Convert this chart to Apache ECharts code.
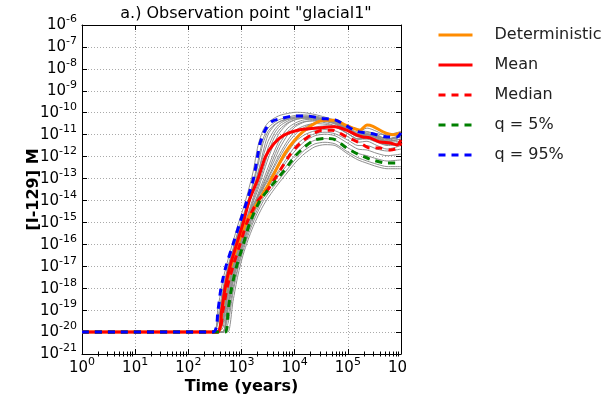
<!DOCTYPE html>
<html><head><meta charset="utf-8">
<script src="https://cdn.jsdelivr.net/npm/echarts/dist/echarts.min.js"></script>
<style>html,body{margin:0;padding:0;background:#fff}#c{width:606px;height:396px}</style>
</head><body><div id="c"></div>
<script>
// ---- data (time in years, concentration in M) ----
const xTickExponents = [0, 1, 2, 3, 4, 5, 6];
const yTickExponents = [-21, -20, -19, -18, -17, -16, -15, -14, -13, -12, -11, -10, -9, -8, -7, -6];
const xMinorSubs = [2, 3, 4, 5, 6, 7, 8, 9];
const seriesNames = ['Deterministic', 'Mean', 'Median', 'q = 5%', 'q = 95%'];

const detTime = [1, 346, 430, 500, 634, 860, 1217, 1645, 3155, 4262, 6540, 10050, 15500, 24000, 37200, 57600, 88300, 125000, 169400, 229000, 297000, 458000, 707000, 1000000];
const detConc = [1e-20, 1e-20, 1e-19, 1e-18, 1e-17, 1e-16, 1e-15, 3.6e-15, 5e-14, 2e-13, 1.4e-12, 5.75e-12, 1.6e-11, 3.3e-11, 4.5e-11, 4.5e-11, 2.8e-11, 2e-11, 1.6e-11, 2.75e-11, 2.4e-11, 1.35e-11, 1e-11, 1.2e-11];

const meanTime = [1, 346, 424, 490, 608, 807, 1083, 1400, 2050, 2825, 4100, 6300, 11400, 24000, 57600, 95000, 148600, 192000, 261000, 402000, 621000, 840000, 1000000];
const meanConc = [1e-20, 1e-20, 1e-19, 1e-18, 1e-17, 1e-16, 1e-15, 1e-14, 1e-13, 1e-12, 4e-12, 9.5e-12, 1.6e-11, 1.95e-11, 2.3e-11, 1.6e-11, 9.5e-12, 7.9e-12, 7.1e-12, 4.6e-12, 4.2e-12, 3.4e-12, 5.75e-12];

const medianTime = [1, 346, 449, 533, 692, 938, 1271, 2046, 3155, 5400, 8500, 13300, 20700, 32700, 50350, 95000, 169400, 261000, 402000, 621000, 880000, 1000000];
const medianConc = [1e-20, 1e-20, 1e-19, 1e-18, 1e-17, 1e-16, 1e-15, 1e-14, 3.2e-14, 2.5e-13, 1.4e-12, 4.5e-12, 1e-11, 1.6e-11, 1.6e-11, 7.9e-12, 4.2e-12, 2.45e-12, 2.45e-12, 2e-12, 2.45e-12, 4.2e-12];

const q5Time = [1, 490, 560, 650, 807, 1083, 1447, 2231, 3751, 6540, 10050, 15500, 24000, 37200, 57600, 95000, 169400, 297000, 545000, 1000000];
const q5Conc = [1e-20, 1e-20, 1e-19, 1e-18, 1e-17, 1e-16, 1e-15, 1e-14, 5e-14, 2.5e-13, 1e-12, 2.8e-12, 5.75e-12, 6.8e-12, 6e-12, 2.45e-12, 1.17e-12, 6.9e-13, 5.1e-13, 5.1e-13];

const q95Time = [1, 291, 361, 411, 511, 692, 938, 1271, 1680, 2000, 2230, 2770, 3650, 5600, 10050, 17000, 32000, 57600, 95000, 148600, 280000, 545000, 840000, 1000000];
const q95Conc = [1e-20, 1e-20, 1e-19, 1e-18, 1e-17, 1e-16, 1e-15, 1e-14, 1e-13, 1e-12, 4e-12, 1.6e-11, 3.9e-11, 5.5e-11, 7.1e-11, 7.1e-11, 5.5e-11, 4.7e-11, 2.5e-11, 1.4e-11, 1.12e-11, 7.9e-12, 7.9e-12, 1.2e-11];

// individual realisations (grey), all on one time grid
const runTime = [1, 291, 361, 449, 557, 692, 860, 1068, 1327, 1650, 2046, 2540, 3155, 4100, 5280, 7440, 10500, 15500, 24000, 37200, 57600, 100700, 155000, 229000, 353000, 545000, 1000000];
const run01 = [1e-20,1e-20,1.3e-19,2.5e-18,2e-17,1.3e-16,7.9e-16,4e-15,2.5e-14,2e-13,3.2e-12,1.6e-11,3.5e-11,5.6e-11,7.6e-11,9.3e-11,1.05e-10,1e-10,8.3e-11,6.3e-11,4.5e-11,2.5e-11,1.6e-11,1.4e-11,1.1e-11,1e-11,1.4e-11];
const run02 = [1e-20,1e-20,5e-20,1e-18,1e-17,6.3e-17,4e-16,2e-15,1e-14,6.3e-14,6.3e-13,6.3e-12,2e-11,3.5e-11,5e-11,6.3e-11,7.6e-11,7.9e-11,7.1e-11,5.6e-11,4e-11,2e-11,1.1e-11,1e-11,7.9e-12,6.3e-12,1e-11];
const run03 = [1e-20,1e-20,1e-20,2.5e-19,4e-18,3.2e-17,2e-16,1e-15,5e-15,2.5e-14,1.6e-13,1.6e-12,1e-11,2.5e-11,4e-11,5.6e-11,6.6e-11,7.1e-11,6.3e-11,5e-11,3.5e-11,1.8e-11,1e-11,8.9e-12,7.1e-12,5.6e-12,7.9e-12];
const run04 = [1e-20,1e-20,1e-20,1.3e-19,2e-18,1.6e-17,1e-16,5e-16,2.5e-15,1.3e-14,6.3e-14,4e-13,2.5e-12,1.1e-11,2.5e-11,4.2e-11,5.6e-11,6.3e-11,6e-11,5e-11,3.8e-11,1.9e-11,1.1e-11,1.1e-11,8.9e-12,6.3e-12,8.9e-12];
const run05 = [1e-20,1e-20,1e-20,5e-20,1e-18,1e-17,6.3e-17,3.2e-16,1.6e-15,7.9e-15,3.2e-14,1.6e-13,7.9e-13,4e-12,1.3e-11,3.2e-11,4.8e-11,5.6e-11,5.6e-11,4.8e-11,3.5e-11,1.7e-11,1e-11,1.3e-11,1e-11,6.3e-12,7.9e-12];
const run06 = [1e-20,1e-20,1e-20,3.2e-20,6.3e-19,6.3e-18,4e-17,2.5e-16,1e-15,5e-15,2e-14,7.9e-14,3.2e-13,1.6e-12,6.3e-12,2e-11,3.5e-11,4.8e-11,5e-11,4.5e-11,3.3e-11,1.5e-11,8.9e-12,1e-11,7.9e-12,5e-12,6.3e-12];
const run07 = [1e-20,1e-20,1e-20,1e-20,2e-19,3.2e-18,2.5e-17,1.6e-16,7.9e-16,3.2e-15,1.3e-14,4.5e-14,1.6e-13,6.3e-13,2.5e-12,1e-11,2.4e-11,3.8e-11,4.4e-11,4e-11,3e-11,1.4e-11,7.9e-12,7.9e-12,6.3e-12,4.5e-12,5e-12];
const run08 = [1e-20,1e-20,1e-20,6.3e-20,1e-18,7.9e-18,6.3e-17,4e-16,2e-15,6.3e-15,1.6e-14,4e-14,1e-13,3.2e-13,1e-12,4e-12,1.1e-11,2.2e-11,3.5e-11,4.2e-11,4e-11,2e-11,1.3e-11,2e-11,1.4e-11,8.9e-12,1e-11];
const run09 = [1e-20,1e-20,1e-20,2.5e-20,5e-19,5e-18,4e-17,2.5e-16,1e-15,3.2e-15,1e-14,2.5e-14,5.6e-14,1.6e-13,4.5e-13,1.6e-12,5e-12,1e-11,1.5e-11,1.7e-11,1.5e-11,7.9e-12,4.5e-12,5e-12,3.2e-12,2.2e-12,3.2e-12];
const run10 = [1e-20,1e-20,1e-20,1e-20,1.6e-19,2.5e-18,2e-17,1.3e-16,6.3e-16,2.5e-15,7.9e-15,2e-14,4.5e-14,1.1e-13,2.8e-13,1e-12,3.2e-12,7.1e-12,1.1e-11,1.3e-11,1.1e-11,5.6e-12,3.2e-12,3.2e-12,2.2e-12,1.8e-12,2.2e-12];
const run11 = [1e-20,1e-20,1e-20,1e-20,1e-19,2e-18,1.6e-17,1e-16,5e-16,2e-15,6.3e-15,1.8e-14,4e-14,1e-13,2.2e-13,7.1e-13,2e-12,5e-12,8.9e-12,1.05e-11,8.9e-12,4e-12,2.2e-12,2e-12,1.4e-12,1.1e-12,1.3e-12];
const run12 = [1e-20,1e-20,1e-20,1e-20,2.5e-20,6.3e-19,7.9e-18,5e-17,2.5e-16,1e-15,3.2e-15,8.9e-15,2e-14,4.5e-14,1e-13,2.8e-13,7.9e-13,2e-12,3.8e-12,4.5e-12,3.8e-12,1.6e-12,8.9e-13,6.3e-13,4.5e-13,3.5e-13,3.5e-13];
const run13 = [1e-20,1e-20,1e-20,1e-20,1e-20,2.5e-19,4e-18,3.2e-17,1.6e-16,6.3e-16,2e-15,5.6e-15,1.3e-14,3.2e-14,7.1e-14,2e-13,5.6e-13,1.4e-12,2.8e-12,3.5e-12,3.2e-12,1.3e-12,7.1e-13,5e-13,3.5e-13,2.8e-13,2.8e-13];
const run14 = [1e-20,1e-20,1e-20,4e-20,7.9e-19,7.9e-18,5e-17,3.2e-16,1.4e-15,5e-15,1.4e-14,3.5e-14,7.9e-14,2.2e-13,6.3e-13,2.2e-12,7.1e-12,1.4e-11,2.2e-11,2.5e-11,2.2e-11,1.1e-11,6.3e-12,7.1e-12,5e-12,3.5e-12,4.5e-12];
const run15 = [1e-20,1e-20,2.5e-20,5e-19,6.3e-18,4e-17,2.5e-16,1.3e-15,6.3e-15,3.2e-14,2e-13,1e-12,5e-12,1.6e-11,3.2e-11,5e-11,6.3e-11,6.6e-11,6e-11,4.8e-11,3.5e-11,1.6e-11,8.9e-12,1e-11,7.1e-12,5e-12,6.3e-12];
const run16 = [1e-20,1e-20,1e-20,1.6e-20,3.2e-19,4e-18,3.2e-17,2e-16,8.9e-16,4e-15,1.6e-14,5.6e-14,2e-13,1e-12,4e-12,1.4e-11,2.8e-11,4e-11,4.2e-11,3.5e-11,2.5e-11,1.1e-11,6.3e-12,6.3e-12,4.5e-12,3.2e-12,3.5e-12];
const run17 = [1e-20,1e-20,1e-20,7.9e-20,1.6e-18,1.3e-17,7.9e-17,4e-16,2e-15,1e-14,4.5e-14,2.5e-13,1.4e-12,7.1e-12,1.8e-11,3.5e-11,5e-11,6e-11,6e-11,5e-11,3.6e-11,1.8e-11,1e-11,1.1e-11,8.9e-12,6.3e-12,7.9e-12];
const run18 = [1e-20,1e-20,1e-20,1e-20,1.3e-19,2e-18,1.6e-17,1e-16,5e-16,2.2e-15,8.9e-15,3.2e-14,1.1e-13,4e-13,1.4e-12,5.6e-12,1.6e-11,2.6e-11,3.2e-11,3e-11,2.4e-11,1.1e-11,6.3e-12,7.1e-12,5e-12,3.5e-12,4e-12];
const run19 = [1e-20,1e-20,3.2e-20,6.3e-19,7.9e-18,5e-17,3.2e-16,1.6e-15,7.9e-15,5e-14,4e-13,4e-12,1.4e-11,2.8e-11,4e-11,5e-11,5.6e-11,5.6e-11,5e-11,4.2e-11,3.2e-11,1.6e-11,8.9e-12,7.9e-12,6.3e-12,5e-12,6.3e-12];
const run20 = [1e-20,1e-20,1e-20,1e-20,5e-20,1e-18,1e-17,7.1e-17,3.5e-16,1.4e-15,4.5e-15,1.3e-14,2.8e-14,7.1e-14,1.6e-13,4.5e-13,1.3e-12,3.2e-12,5.6e-12,6.6e-12,5.6e-12,2.5e-12,1.4e-12,1.1e-12,7.9e-13,6.3e-13,7.1e-13];
const runs = [run01, run02, run03, run04, run05, run06, run07, run08, run09, run10, run11, run12, run13, run14, run15, run16, run17, run18, run19, run20];

// ---- chart ----
const FONT = 'DejaVu Sans';
const zip = (t, v) => t.map((x, i) => [x, v[i]]);
const xMinorTicks = [];
xTickExponents.slice(0, -1).forEach(e => xMinorSubs.forEach(m => xMinorTicks.push(m * Math.pow(10, e))));
const yMajorTicks = yTickExponents.map(e => Math.pow(10, e));

function supLabel(exps, hideLast) {
  return function (v) {
    const lv = v > 0 ? Math.log10(v) : exps[0];
    const e = exps.find(k => Math.abs(lv - k) < 0.01);
    if (e === undefined) return '';
    const s = String(e);
    if (hideLast && e === exps[exps.length - 1]) return '{b|10}{h|' + s + '}';
    return '{b|10}{s|' + s + '}';
  };
}
const richSup = {
  b: { fontSize: 15, fontFamily: FONT, color: '#000', lineHeight: 16, verticalAlign: 'bottom' },
  s: { fontSize: 11, fontFamily: FONT, color: '#000', lineHeight: 12, padding: [0, 0, 8, 0], verticalAlign: 'bottom' },
  h: { fontSize: 11, fontFamily: FONT, color: 'rgba(0,0,0,0)', lineHeight: 12, padding: [0, 0, 8, 0], verticalAlign: 'bottom' }
};

const tick = { show: true, inside: true, length: 5, lineStyle: { color: '#000', width: 1 } };
const yTick = Object.assign({}, tick, { customValues: yMajorTicks });
const minorTick = { show: true, inside: true, length: 2.5, customValues: xMinorTicks, lineStyle: { color: '#000', width: 1 } };
const axLine = { show: true, onZero: false, lineStyle: { color: '#000', width: 1 } };
const gridLine = { show: true, lineStyle: { color: '#aaa', width: 1, type: [1, 2] } };

const series = [];
runs.forEach(r => series.push({
  type: 'line', data: zip(runTime, r), symbol: 'none', showSymbol: false, smooth: 0.25, silent: true,
  lineStyle: { color: '#8f8f8f', width: 1 }, z: 1
}));
const dash = [7, 6];
function mainSeries(name, t, v, color, type, z) {
  return { name: name, type: 'line', data: zip(t, v), symbol: 'none', showSymbol: false, smooth: 0.25,
    lineStyle: { color: color, width: 3, type: type }, itemStyle: { color: color }, z: z };
}
series.push(mainSeries(seriesNames[0], detTime, detConc, '#ff8c00', 'solid', 2));
series.push(mainSeries(seriesNames[1], meanTime, meanConc, '#ff0000', 'solid', 3));
series.push(mainSeries(seriesNames[2], medianTime, medianConc, '#ff0000', dash, 4));
series.push(mainSeries(seriesNames[3], q5Time, q5Conc, '#008000', dash, 5));
series.push(mainSeries(seriesNames[4], q95Time, q95Conc, '#0000ff', dash, 6));

const xBase = { type: 'log', logBase: 10, min: 1, max: 1e6, interval: 1, splitNumber: 6 };
const yBase = { type: 'log', logBase: 10, min: 1e-21, max: 1e-6, interval: 1, splitNumber: 15 };

const chart = echarts.init(document.getElementById('c'), null, { renderer: 'canvas' });
chart.setOption({
  animation: false,
  backgroundColor: '#fff',
  textStyle: { fontFamily: FONT },
  title: {
    text: 'a.) Observation point "glacial1"', left: 241, top: 1, textAlign: 'center',
    textStyle: { fontFamily: FONT, fontSize: 16, fontWeight: 'normal', color: '#000' }
  },
  legend: {
    data: seriesNames, orient: 'vertical', left: 437, top: 27, padding: 0,
    itemWidth: 34, itemHeight: 16, itemGap: 14,
    itemStyle: { opacity: 0 },
    lineStyle: { width: 3 },
    textStyle: { fontFamily: FONT, fontSize: 16, color: '#222', lineHeight: 16, padding: [0, 0, 0, 17] },
    selectedMode: false
  },
  grid: { left: 82, top: 25, right: 205, bottom: 42, containLabel: false, outerBoundsMode: 'none' },
  xAxis: [
    Object.assign({}, xBase, { position: 'bottom',
      name: 'Time (years)', nameLocation: 'middle', nameGap: 25, nameMoveOverlap: false,
      nameTextStyle: { fontFamily: FONT, fontSize: 16, fontWeight: 'bold', color: '#000' },
      axisLine: axLine, axisTick: tick, splitLine: gridLine,
      axisLabel: { interval: 0, margin: 6, showMinLabel: true, showMaxLabel: true, formatter: supLabel(xTickExponents, true), rich: richSup } }),
    Object.assign({}, xBase, { position: 'top',
      axisLine: axLine, axisTick: tick, splitLine: { show: false }, axisLabel: { show: false } }),
    Object.assign({}, xBase, { position: 'bottom',
      axisLine: { show: false }, axisTick: minorTick, splitLine: { show: false }, axisLabel: { show: false } }),
    Object.assign({}, xBase, { position: 'top',
      axisLine: { show: false }, axisTick: minorTick, splitLine: { show: false }, axisLabel: { show: false } })
  ],
  yAxis: [
    Object.assign({}, yBase, { position: 'left',
      name: '[I-129] M', nameLocation: 'middle', nameGap: 40, nameMoveOverlap: false,
      nameTextStyle: { fontFamily: FONT, fontSize: 16, fontWeight: 'bold', color: '#000' },
      axisLine: axLine, axisTick: yTick, splitLine: gridLine,
      axisLabel: { interval: 0, margin: 5, customValues: yMajorTicks, formatter: supLabel(yTickExponents, false), rich: richSup } }),
    Object.assign({}, yBase, { position: 'right',
      axisLine: axLine, axisTick: yTick, splitLine: { show: false }, axisLabel: { show: false } })
  ],
  series: series
});
</script>
</body></html>
